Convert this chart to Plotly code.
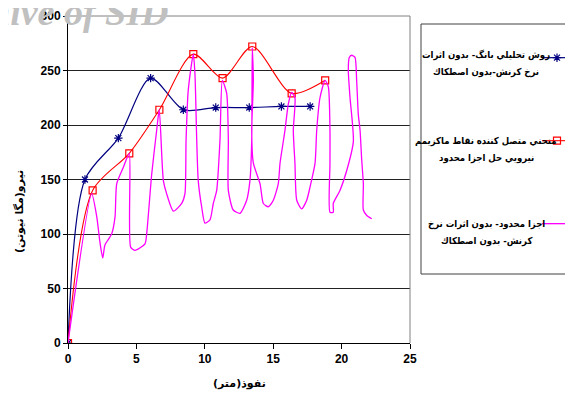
import plotly.graph_objects as go

# Blue: analytical (Bangash) method
blue_x = [0, 1.24, 3.68, 6.04, 8.43, 10.8, 13.25, 15.6, 17.7]
blue_y = [0, 150, 188, 243, 214, 216, 216, 217, 217]

# Red: envelope connecting max FE force points
red_x = [0, 1.8, 4.48, 6.68, 9.16, 11.3, 13.47, 16.35, 18.8]
red_y = [0, 140, 174, 214, 265, 243, 272, 229, 241]

# Magenta: finite element result
fe_x = [0, 1.73, 2.10, 2.34, 2.54, 2.70, 3.19, 3.44, 3.56, 4.04, 4.48,
        4.58, 4.90, 5.63, 5.75, 6.12, 6.48, 6.67,
        6.97, 7.21, 7.70, 8.31, 8.55, 8.63, 8.79, 9.16,
        9.28, 9.41, 9.52, 9.77, 10.01, 10.38, 10.62, 10.87, 11.11, 11.28,
        11.60, 11.72, 11.72, 12.08, 12.57, 13.06, 13.30, 13.43, 13.47,
        13.55, 13.43, 13.55, 14.04, 14.28, 14.64, 15.01, 15.37, 15.50, 15.86, 16.10, 16.35,
        16.59, 16.47, 16.59, 16.72, 17.08, 17.45, 17.69, 18.06, 18.18, 18.42, 18.79,
        19.03, 19.15, 19.15, 19.15, 19.39, 19.39, 19.88, 20.37, 20.86, 20.61, 20.49,
        20.56, 20.74, 20.98, 21.10, 21.22, 21.35, 21.47, 21.59, 21.59, 21.84, 22.20]
fe_y = [0, 137, 116, 92, 78, 90, 100, 116, 146, 161, 174,
        88, 85, 91, 100, 155, 195, 214,
        149, 137, 121, 128, 137, 186, 232, 265,
        247, 186, 149, 125, 110, 113, 128, 140, 186, 241,
        229, 186, 140, 122, 119, 131, 149, 186, 271,
        241, 195, 165, 146, 128, 125, 131, 146, 165, 195, 219, 230,
        225, 195, 165, 131, 123, 131, 143, 165, 195, 225, 241,
        235, 195, 165, 120, 120, 128, 140, 158, 185, 226, 250,
        262, 264, 262, 241, 210, 195, 168, 146, 122, 117, 114]

# legend labels (right-to-left legend: key on the right of the text)
label_blue = ["روش تحليلي بانگ- بدون اثرات", "نرخ كرنش-بدون اصطكاك"]
label_red = ["منحني متصل كننده نقاط ماكزيمم", "نيرويي حل اجزا محدود"]
label_fe = ["اجزا محدود- بدون اثرات نرخ", "كرنش- بدون اصطكاك"]

x_ticks = [0, 5, 10, 15, 20, 25]
y_ticks = [0, 50, 100, 150, 200, 250, 300]

fig = go.Figure()
fig.add_trace(go.Scatter(
    x=blue_x, y=blue_y, name="", mode="lines+markers",
    line=dict(color="#000080", width=1.2, shape="spline", smoothing=0.8),
    marker=dict(symbol="asterisk-open", size=7, line=dict(color="#000080", width=1.2)),
    legendgroup="a"))
fig.add_trace(go.Scatter(
    x=red_x, y=red_y, name="", mode="lines+markers",
    line=dict(color="#FF0000", width=1.1, shape="spline", smoothing=0.8),
    marker=dict(symbol="square-open", size=7, color="#FF0000", line=dict(width=1.2)),
    legendgroup="b"))
fig.add_trace(go.Scatter(
    x=fe_x, y=fe_y, name="", mode="lines",
    line=dict(color="#FF00FF", width=1.3, shape="spline", smoothing=0.6),
    legendgroup="c"))

# page offset (body margin) of 8px; screen geometry of plot area x 68..410, y 16..343
OFF = 8
L, R, T, B = 68 - OFF, 410 - OFF, 16 - OFF, 343 - OFF
W, H = R - L, B - T
def px(xs):  # screen x -> paper
    return (xs - OFF - L) / W
def py(ys):  # screen y -> paper
    return (B - (ys - OFF)) / H

font_tick = dict(family="Liberation Sans, Arial", size=12, color="black", weight="bold")
font_leg = dict(family="DejaVu Sans Condensed, DejaVu Sans", size=9.5, color="black",
                weight="bold")

annotations = [
    dict(text="نفوذ(متر)", xref="paper", yref="paper", x=px(239), y=py(383),
         xanchor="center", yanchor="middle", showarrow=False,
         font=dict(family="DejaVu Sans", size=11, color="black", weight="bold")),
    dict(text="نيرو(مگا نيوتن)", xref="paper", yref="paper", x=px(19), y=py(212),
         xanchor="center", yanchor="middle", showarrow=False, textangle=-90,
         font=dict(family="DejaVu Sans", size=11, color="black", weight="bold")),
    dict(text="Archive of SID", xref="paper", yref="paper", x=px(170), y=py(35),
         xanchor="right", yanchor="bottom", showarrow=False,
         font=dict(family="Liberation Serif", size=38, color="#c0c0c0",
                   weight="bold", style="italic")),
]
for lines, y1 in [(label_blue, 55), (label_red, 141), (label_fe, 224)]:
    for k, t in enumerate(lines):
        annotations.append(dict(
            text=t, xref="paper", yref="paper", x=px(486), y=py(y1 + 17 * k),
            xanchor="center", yanchor="middle", showarrow=False, font=font_leg))

fig.update_layout(
    width=573, height=400,
    margin=dict(l=L, r=573 - R, t=T, b=400 - B, autoexpand=False),
    paper_bgcolor="white", plot_bgcolor="white",
    showlegend=True,
    legend=dict(x=px(537), y=py(45), xanchor="left", yanchor="top",
                bgcolor="rgba(0,0,0,0)", borderwidth=0,
                traceorder="grouped", tracegroupgap=64, valign="top",
                font=font_leg),
    xaxis=dict(range=[0, 25], tickvals=x_ticks, ticks="outside", ticklen=5,
               tickcolor="black", showline=True, linecolor="black", linewidth=1,
               showgrid=False, zeroline=False, tickfont=font_tick, automargin=False),
    yaxis=dict(range=[0, 300], tickvals=y_ticks, ticks="outside", ticklen=4,
               tickcolor="black", showline=True, linecolor="black", linewidth=1,
               showgrid=True, gridcolor="#222222", gridwidth=1, zeroline=False,
               tickfont=font_tick, automargin=False),
    shapes=[
        dict(type="line", xref="paper", yref="paper", x0=0, x1=1, y0=1, y1=1,
             line=dict(color="#808080", width=1)),
        dict(type="line", xref="paper", yref="paper", x0=1, x1=1, y0=0, y1=1,
             line=dict(color="#808080", width=1)),
        dict(type="rect", xref="paper", yref="paper", x0=px(421), x1=px(590),
             y0=py(274), y1=py(24), line=dict(color="#404040", width=1),
             fillcolor="rgba(0,0,0,0)"),
    ],
    annotations=annotations,
)

fig.write_html("out.html")
